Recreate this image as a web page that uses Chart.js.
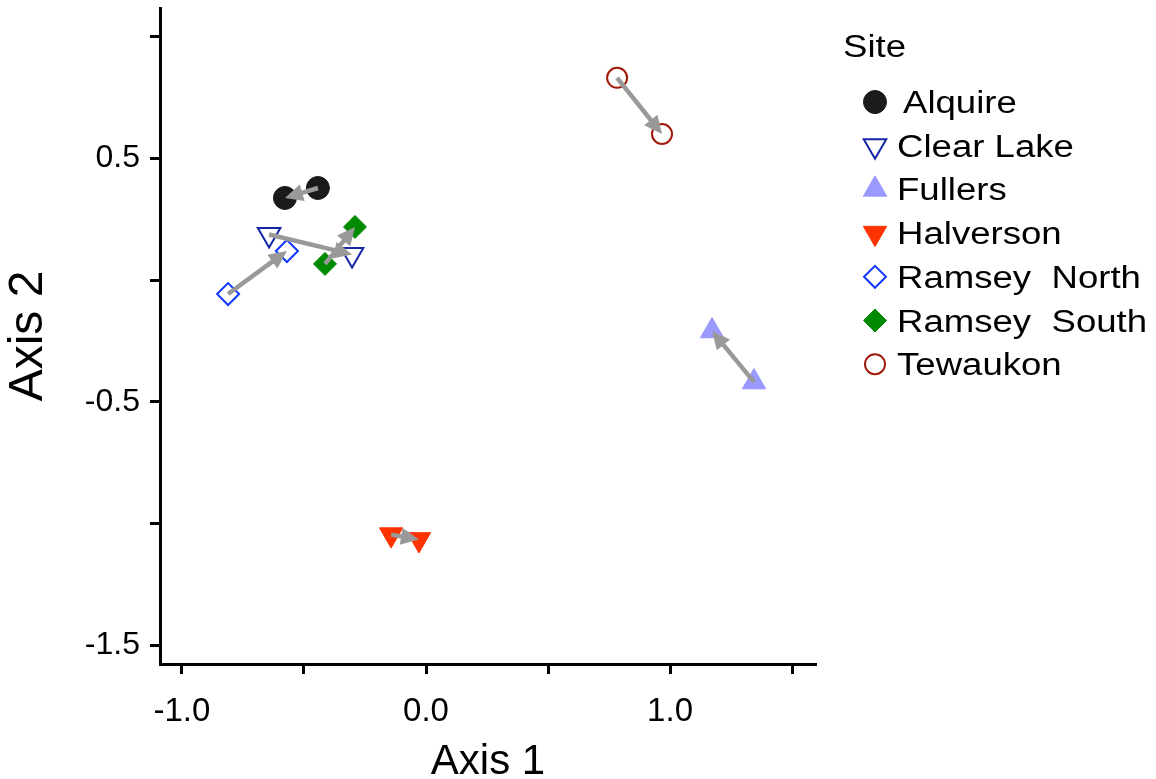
<!DOCTYPE html>
<html>
<head>
<meta charset="utf-8">
<script src="https://cdn.jsdelivr.net/npm/chart.js@4.4.1/dist/chart.umd.min.js"></script>
<style>
  html, body { margin: 0; padding: 0; background: #fff; }
  #wrap { position: relative; width: 1156px; height: 779px; }
</style>
</head>
<body>
<div id="wrap"><canvas id="ordination"></canvas></div>
<script>
// site scores on the two axes, first survey -> second survey
var sites = ["Alquire", "Clear Lake", "Fullers", "Halverson", "Ramsey  North", "Ramsey  South", "Tewaukon"];
var axis1Start = [-0.443, -0.643, 1.344, -0.143, -0.811, -0.414, 0.783];
var axis2Start = [0.379, 0.188, -0.419, -1.046, -0.057, 0.067, 0.832];
var axis1End = [-0.578, -0.303, 1.172, -0.029, -0.570, -0.291, 0.967];
var axis2End = [0.338, 0.106, -0.209, -1.066, 0.120, 0.219, 0.601];

var xTicks = [-1.0, -0.5, 0.0, 0.5, 1.0, 1.5];
var xTickLabels = ["-1.0", "", "0.0", "", "1.0", ""];
var yTicks = [1.0, 0.5, 0.0, -0.5, -1.0, -1.5];
var yTickLabels = ["", "0.5", "", "-0.5", "", "-1.5"];

var siteStyles = [
  { shape: "circle", rot: 0, r: 11.5, fill: "#1a1a1a", line: "#1a1a1a", w: 1 },
  { shape: "triangle", rot: 180, r: 13, fill: "#ffffff", line: "#1426a6", w: 2 },
  { shape: "triangle", rot: 0, r: 13.5, fill: "#9999ff", line: "#9999ff", w: 1 },
  { shape: "triangle", rot: 180, r: 13.5, fill: "#ff3300", line: "#ff3300", w: 1 },
  { shape: "rectRot", rot: 0, r: 11, fill: "#ffffff", line: "#1038ff", w: 2 },
  { shape: "rectRot", rot: 0, r: 11.5, fill: "#008a00", line: "#008a00", w: 1 },
  { shape: "circle", rot: 0, r: 10, fill: "#ffffff", line: "#a01a0a", w: 2 },
];

var FONT = "'Liberation Sans', Arial, sans-serif";
var arrowColor = "#999999";

Chart.defaults.color = "#000";
Chart.defaults.font.family = FONT;

var datasets = sites.map((name, i) => ({
  label: name,
  data: [
    { x: axis1Start[i], y: axis2Start[i] },
    { x: axis1End[i], y: axis2End[i] },
  ],
  pointStyle: siteStyles[i].shape,
  pointRotation: siteStyles[i].rot,
  pointRadius: siteStyles[i].r,
  pointHoverRadius: siteStyles[i].r,
  pointBackgroundColor: siteStyles[i].fill,
  pointBorderColor: siteStyles[i].line,
  pointBorderWidth: siteStyles[i].w,
  showLine: false,
  clip: false,
}));

// grey arrows from first to second position
var arrows = {
  id: "arrows",
  afterDatasetsDraw(chart) {
    let ctx = chart.ctx;
    let xs = chart.scales.x;
    let ys = chart.scales.y;
    let headLen = 18;
    let headHalf = 8.5;
    ctx.save();
    ctx.strokeStyle = arrowColor;
    ctx.fillStyle = arrowColor;
    ctx.lineWidth = 4.5;
    sites.forEach((s, i) => {
      let x0 = xs.getPixelForValue(axis1Start[i]);
      let y0 = ys.getPixelForValue(axis2Start[i]);
      let x1 = xs.getPixelForValue(axis1End[i]);
      let y1 = ys.getPixelForValue(axis2End[i]);
      let ang = Math.atan2(y1 - y0, x1 - x0);
      let c = Math.cos(ang), sn = Math.sin(ang);
      let bx = x1 - headLen * c;
      let by = y1 - headLen * sn;
      ctx.beginPath();
      ctx.moveTo(x0, y0);
      ctx.lineTo(bx + 2 * c, by + 2 * sn);
      ctx.stroke();
      ctx.beginPath();
      ctx.moveTo(x1, y1);
      ctx.lineTo(bx + headHalf * sn, by - headHalf * c);
      ctx.lineTo(bx - headHalf * sn, by + headHalf * c);
      ctx.closePath();
      ctx.fill();
    });
    ctx.restore();
  },
};

// legend on the right, text a bit wide like the original
var siteLegend = {
  id: "siteLegend",
  afterDraw(chart) {
    let ctx = chart.ctx;
    let stretch = 1.18;
    ctx.save();
    ctx.fillStyle = "#000";
    ctx.font = "31px " + FONT;
    ctx.textBaseline = "alphabetic";
    ctx.textAlign = "left";
    ctx.save();
    ctx.translate(843, 57);
    ctx.scale(stretch, 1);
    ctx.fillText("Site", 0, 0);
    ctx.restore();
    sites.forEach((name, i) => {
      let st = siteStyles[i];
      let cy = 102 + i * 43.7;
      ctx.save();
      ctx.fillStyle = st.fill;
      ctx.strokeStyle = st.line;
      ctx.lineWidth = st.w;
      Chart.helpers.drawPoint(ctx, { pointStyle: st.shape, rotation: st.rot, radius: st.r, borderWidth: st.w }, 875, cy);
      ctx.restore();
      ctx.save();
      ctx.translate(i == 0 ? 903 : 897, cy + 11);
      ctx.scale(stretch, 1);
      ctx.fillText(name, 0, 0);
      ctx.restore();
    });
    ctx.restore();
  },
};

var ctx = document.getElementById("ordination").getContext("2d");
var chart = new Chart(ctx, {
  type: "scatter",
  data: { datasets: datasets },
  plugins: [arrows, siteLegend],
  options: {
    responsive: true,
    maintainAspectRatio: false,
    animation: false,
    layout: { autoPadding: false, padding: { left: 0, right: 340, top: 8, bottom: 0 } },
    plugins: {
      legend: { display: false },
      tooltip: { enabled: false },
    },
    scales: {
      x: {
        type: "linear",
        min: -1.09,
        max: 1.598,
        afterBuildTicks: (scale) => {
          scale.ticks = xTicks.map((v) => ({ value: v }));
        },
        afterFit: (scale) => {
          scale.height = 115;
          scale.paddingLeft = 0;
          scale.paddingRight = 0;
        },
        ticks: {
          autoSkip: false,
          maxRotation: 0,
          padding: 18,
          font: { size: 33 },
          callback: (value, index) => xTickLabels[index],
        },
        grid: {
          drawOnChartArea: false,
          drawTicks: true,
          tickLength: 10,
          tickWidth: 3,
          tickColor: "#000",
        },
        border: { display: true, width: 3, color: "#000" },
        title: {
          display: true,
          text: "Axis 1",
          padding: 0,
          font: { size: 42, lineHeight: 0.8 },
        },
      },
      y: {
        type: "linear",
        min: -1.578,
        max: 1.119,
        afterBuildTicks: (scale) => {
          scale.ticks = yTicks.map((v) => ({ value: v }));
        },
        afterFit: (scale) => {
          scale.width = 160;
          scale.paddingTop = 0;
          scale.paddingBottom = 0;
        },
        ticks: {
          autoSkip: false,
          padding: 10,
          font: { size: 32 },
          callback: (value, index) => yTickLabels[index],
        },
        grid: {
          drawOnChartArea: false,
          drawTicks: true,
          tickLength: 10,
          tickWidth: 3,
          tickColor: "#000",
        },
        border: { display: true, width: 3, color: "#000" },
        title: {
          display: true,
          text: "Axis 2",
          padding: 0,
          font: { size: 48 },
        },
      },
    },
  },
});
</script>
</body>
</html>
